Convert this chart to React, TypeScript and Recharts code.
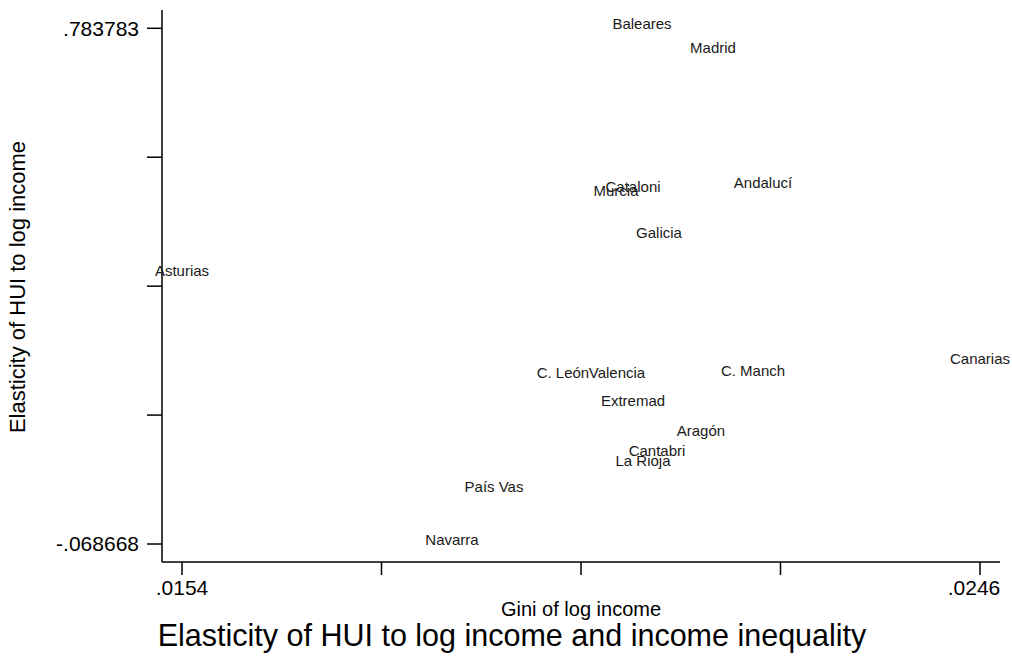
import { ScatterChart, Scatter, XAxis, YAxis } from 'recharts';

const regions = [
  'Baleares', 'Madrid', 'Cataloni', 'Murcia', 'Andalucí', 'Galicia', 'Asturias', 'Canarias',
  'C. León', 'Valencia', 'C. Manch', 'Extremad', 'Aragón', 'Cantabri', 'La Rioja', 'País Vas', 'Navarra',
];
const gini = [
  0.020703, 0.021522, 0.0206, 0.020404, 0.022098, 0.020899, 0.0154, 0.0246,
  0.019792, 0.020415, 0.021983, 0.0206, 0.021383, 0.020876, 0.020715, 0.018997, 0.018513,
];
const elasticity = [
  0.783783, 0.7446, 0.5155, 0.5084, 0.5216, 0.439, 0.3762, 0.2313,
  0.2072, 0.2072, 0.211, 0.1603, 0.1119, 0.0789, 0.0623, 0.0194, -0.068668,
];

const xTicks = [0.0154, 0.0177, 0.02, 0.0223, 0.0246];
const xTickLabels = ['.0154', '', '', '', '.0246'];
const yTicks = [-0.068668, 0.144445, 0.357558, 0.57067, 0.783783];
const yTickLabels = ['-.068668', '', '', '', '.783783'];

const font = '"Liberation Sans", Arial, Helvetica, sans-serif';

const data = regions.map((name, i) => ({ name, x: gini[i], y: elasticity[i] }));

const pick = (ticks: number[], labels: string[]) => (v: number) => {
  const i = ticks.findIndex(t => Math.abs(t - v) < 1e-7);
  return i >= 0 ? labels[i] : '';
};

// x tick labels: keep the last one inside the graph
const XTick = (props: any) => {
  const { x, y, payload } = props;
  const i = xTicks.findIndex(t => Math.abs(t - payload.value) < 1e-7);
  const label = i >= 0 ? xTickLabels[i] : '';
  if (!label) return null;
  const dx = i === xTicks.length - 1 ? -6 : 0;
  return (
    <text x={x + dx} y={y + 16} textAnchor="middle" fontSize={21} fontFamily={font} fill="#000">
      {label}
    </text>
  );
};

// label only, no marker
const RegionLabel = (props: any) => {
  const { cx, cy, payload } = props;
  return (
    <text x={cx} y={cy + 1} textAnchor="middle" fontSize={15} fontFamily={font} fill="#1a1a1a">
      {payload.name}
    </text>
  );
};

export default function App() {
  return (
    <div style={{ position: 'absolute', left: 0, top: 0, width: 1012, height: 661, background: '#fff', fontFamily: font }}>
      <ScatterChart width={1012} height={661} margin={{ top: 10, right: 12, bottom: 0, left: 0 }}>
        <XAxis
          type="number"
          dataKey="x"
          domain={[0.0151694, 0.0248306]}
          ticks={xTicks}
          height={99}
          tickSize={13}
          tickMargin={4}
          stroke="#000"
          strokeWidth={1.5}
          tick={<XTick />}
        />
        <YAxis
          type="number"
          dataKey="y"
          domain={[-0.09841, 0.81402]}
          ticks={yTicks}
          tickFormatter={pick(yTicks, yTickLabels)}
          width={162}
          tickSize={15}
          tickMargin={8}
          stroke="#000"
          strokeWidth={1.5}
          tick={{ fontSize: 21, fill: '#000', fontFamily: font }}
        />
        <Scatter data={data} shape={RegionLabel} isAnimationActive={false} />
      </ScatterChart>
      <svg width={1012} height={661} style={{ position: 'absolute', left: 0, top: 0, pointerEvents: 'none' }}>
        <text
          x={25}
          y={287}
          transform="rotate(-90, 25, 287)"
          textAnchor="middle"
          fontSize={22}
          fontFamily={font}
          fill="#000"
        >
          Elasticity of HUI to log income
        </text>
        <text x={581} y={616} textAnchor="middle" fontSize={20} fontFamily={font} fill="#000">
          Gini of log income
        </text>
        <text x={512} y={646} textAnchor="middle" fontSize={30.5} fontFamily={font} fill="#000">
          Elasticity of HUI to log income and income inequality
        </text>
      </svg>
    </div>
  );
}
